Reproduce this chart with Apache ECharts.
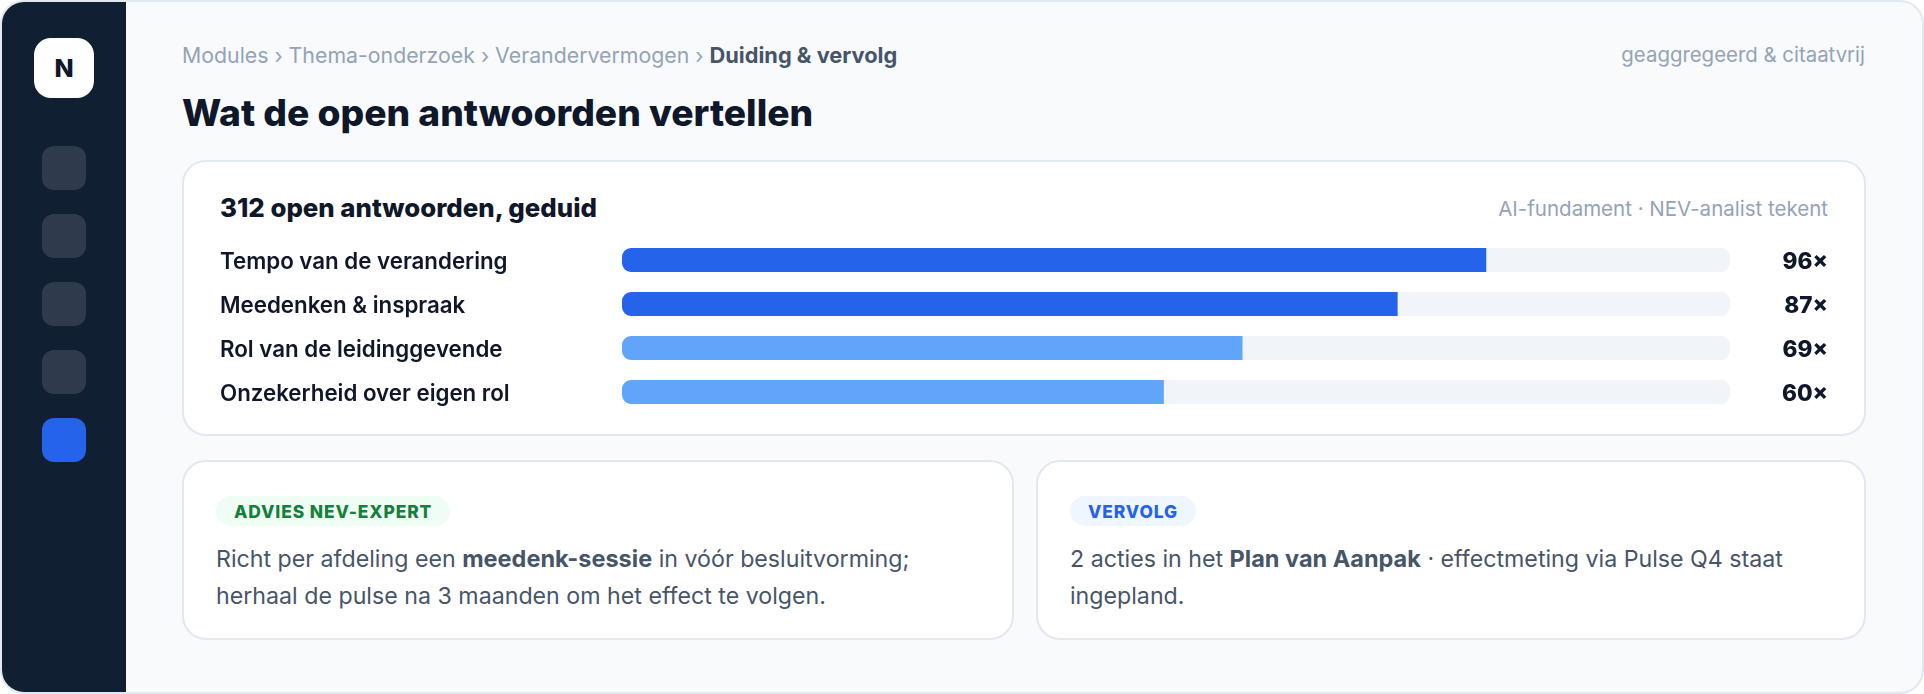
<!DOCTYPE html>
<html lang="nl">
<head>
<meta charset="utf-8">
<title>Wat de open antwoorden vertellen</title>
<script src="https://cdn.jsdelivr.net/npm/echarts@6/dist/echarts.min.js"></script>
<style>
html, body { margin: 0; padding: 0; background: #fff; }
body { width: 1924px; height: 694px; overflow: hidden; font-family: Inter, "Noto Sans", sans-serif; position: relative; }
.frame { position: absolute; left: 0; top: 0; width: 1924px; height: 694px; box-sizing: border-box; background: #f8fafc; border: 2px solid #e2e8f0; border-radius: 24px; overflow: hidden; }
.rail { position: absolute; left: 0; top: 0; width: 124px; height: 690px; background: #111f32; }
.logo { position: absolute; left: 32px; top: 36px; width: 60px; height: 60px; background: #fff; border-radius: 17px; color: #0f172a; font-size: 25px; font-weight: 800; line-height: 60px; text-align: center; }
.nav { position: absolute; left: 40px; width: 44px; height: 44px; background: #2f3b4c; border-radius: 12px; }
.nav.on { background: #2563eb; }
.txt { position: absolute; white-space: nowrap; }
.crumb { left: 182px; top: 43px; font-size: 21.3px; line-height: 24px; color: #94a3b8; }
.crumb b { color: #475569; font-size: 21.8px; font-weight: 700; }
.aside { left: 0; top: 43px; width: 1865px; text-align: right; font-size: 20.4px; line-height: 24px; color: #94a3b8; }
h1 { position: absolute; left: 182px; top: 89px; margin: 0; font-size: 37.2px; line-height: 48px; font-weight: 800; color: #0f172a; white-space: nowrap; }
.card { position: absolute; box-sizing: border-box; background: #fff; border: 2px solid #e2e8f0; border-radius: 24px; }
.card h2 { position: absolute; left: 36px; top: 30px; margin: 0; font-size: 25.8px; line-height: 32px; font-weight: 800; color: #0f172a; white-space: nowrap; }
.card .src { position: absolute; right: 36px; top: 35px; font-size: 20.5px; line-height: 24px; color: #94a3b8; white-space: nowrap; }
.pill { position: absolute; left: 32px; top: 34px; height: 30px; line-height: 32px; padding: 0 18px; border-radius: 15px; font-size: 17.4px; font-weight: 800; letter-spacing: 0.9px; white-space: nowrap; }
.pill.green { background: #f0fdf4; color: #15803d; }
.pill.blue { background: #eff6ff; color: #2563eb; }
.note { position: absolute; left: 32px; top: 78px; width: 790px; font-size: 23.2px; line-height: 37px; color: #475569; }
.note b { font-size: 23.5px; font-weight: 700; }
#grafico { position: absolute; left: 184px; top: 230px; width: 1680px; height: 192px; }
</style>
</head>
<body>
<div class="frame">
  <div class="rail">
    <div class="logo">N</div>
    <div class="nav" style="top:144px"></div>
    <div class="nav" style="top:212px"></div>
    <div class="nav" style="top:280px"></div>
    <div class="nav" style="top:348px"></div>
    <div class="nav on" style="top:416px"></div>
  </div>
</div>
<div class="txt crumb">Modules › Thema-onderzoek › Verandervermogen › <b>Duiding &amp; vervolg</b></div>
<div class="txt aside">geaggregeerd &amp; citaatvrij</div>
<h1>Wat de open antwoorden vertellen</h1>

<div class="card" style="left:182px;top:160px;width:1684px;height:276px">
  <h2>312 open antwoorden, geduid</h2>
  <div class="src">AI-fundament · NEV-analist tekent</div>
</div>
<div id="grafico"></div>

<div class="card" style="left:182px;top:460px;width:832px;height:180px">
  <div class="pill green">ADVIES NEV-EXPERT</div>
  <div class="note">Richt per afdeling een <b>meedenk-sessie</b> in vóór besluitvorming;<br>herhaal de pulse na 3 maanden om het effect te volgen.</div>
</div>
<div class="card" style="left:1036px;top:460px;width:830px;height:180px">
  <div class="pill blue">VERVOLG</div>
  <div class="note">2 acties in het <b>Plan van Aanpak</b> · effectmeting via Pulse Q4 staat<br>ingepland.</div>
</div>

<script>
var themas = ['Tempo van de verandering', 'Meedenken & inspraak', 'Rol van de leidinggevende', 'Onzekerheid over eigen rol'];
var aantallen = [96, 87, 69, 60];
var breedtes = [78, 70, 56, 48.9];

var myChart = echarts.init(document.getElementById('grafico'));

var option = {
    animation: false,
    textStyle: { fontFamily: 'Inter' },
    grid: { left: 438, top: 8, width: 1108, height: 176 },
    xAxis: { type: 'value', min: 0, max: 100, show: false },
    yAxis: [{
        type: 'category',
        inverse: true,
        data: themas,
        axisLine: { show: false },
        axisTick: { show: false },
        // verticalAlign top + kleine lineHeight: tekst zakt 2px t.o.v. het midden van de balk
        axisLabel: { align: 'left', verticalAlign: 'top', lineHeight: 4, margin: 402, color: '#0f172a', fontSize: 22.3, fontWeight: 600 }
    }, {
        type: 'category',
        inverse: true,
        position: 'right',
        data: aantallen.map(function (n) { return n + '×'; }),
        axisLine: { show: false },
        axisTick: { show: false },
        axisLabel: { align: 'right', verticalAlign: 'top', lineHeight: 4, margin: 98, color: '#0f172a', fontSize: 22.6, fontWeight: 800 }
    }],
    series: [{
        type: 'bar',
        yAxisIndex: 0,
        barWidth: 24,
        silent: true,
        data: breedtes,
        showBackground: true,
        backgroundStyle: { color: '#f1f5f9', borderRadius: 9 },
        itemStyle: {
            borderRadius: [9, 0, 0, 9],
            color: function (p) { return p.value >= 70 ? '#2563eb' : '#60a5fa'; }
        }
    }]
};

myChart.setOption(option);
</script>
</body>
</html>
